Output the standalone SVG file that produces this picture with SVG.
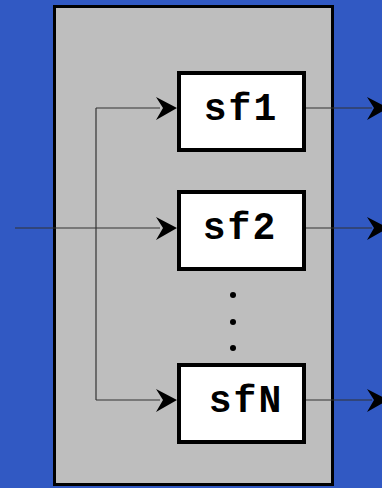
<svg xmlns="http://www.w3.org/2000/svg" width="382" height="488" viewBox="0 0 382 488">
<style>
.box{fill:#ffffff;stroke:#000;stroke-width:4}
.lbl{font-family:"Liberation Mono",monospace;font-weight:bold;font-size:38px;letter-spacing:2px;fill:#000;text-anchor:middle}
.ln{fill:none;stroke:#333;stroke-width:1.2}
.ah{fill:#000}
</style>
<defs>
<path id="ah" d="M0,0 L-21,-11 L-14,0 L-21,12 Z"/>
</defs>
<rect x="0" y="0" width="382" height="488" fill="#3159C3"/>
<rect id="container" x="54.5" y="6.5" width="278" height="478" fill="#bebebe" stroke="#000" stroke-width="3"/>
<g id="connectors">
<path class="ln" d="M15,228 H160"/>
<path class="ln" d="M96,108 V400"/>
<path class="ln" d="M96,108 H160"/>
<path class="ln" d="M96,400 H160"/>
<path class="ln" d="M306,108 H372"/>
<path class="ln" d="M306,228 H372"/>
<path class="ln" d="M306,400 H372"/>
<use href="#ah" class="ah" x="177" y="108"/>
<use href="#ah" class="ah" x="177" y="228"/>
<use href="#ah" class="ah" x="177" y="400"/>
<use href="#ah" class="ah" x="388" y="108"/>
<use href="#ah" class="ah" x="388" y="228"/>
<use href="#ah" class="ah" x="388" y="400"/>
</g>
<g id="sf1">
<rect class="box" x="179" y="73" width="125" height="77"/>
<text class="lbl" x="241" y="120">sf1</text>
</g>
<g id="sf2">
<rect class="box" x="179" y="192" width="125" height="77"/>
<text class="lbl" x="240" y="239">sf2</text>
</g>
<g id="dots">
<circle cx="233" cy="295" r="3" fill="#000"/>
<circle cx="233" cy="322" r="3" fill="#000"/>
<circle cx="233" cy="348" r="3" fill="#000"/>
</g>
<g id="sfN">
<rect class="box" x="179" y="365" width="125" height="77"/>
<text class="lbl" x="246" y="412">sfN</text>
</g>
</svg>
